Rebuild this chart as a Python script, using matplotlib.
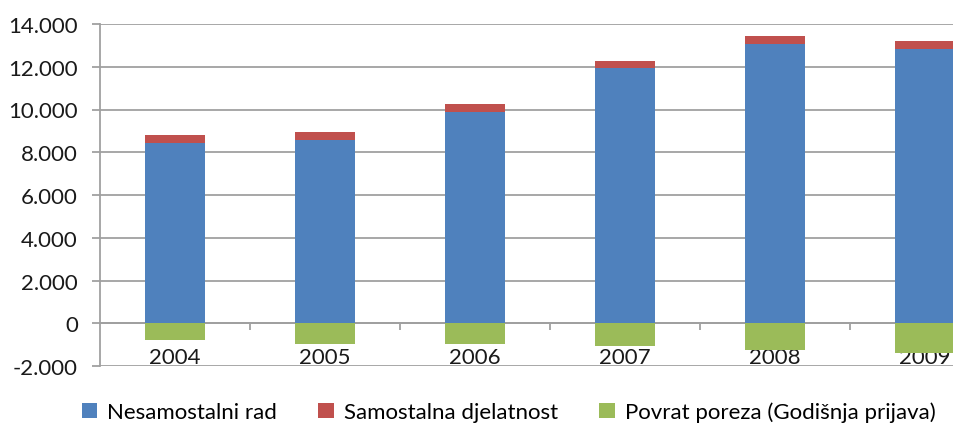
import numpy as np
import matplotlib.pyplot as plt
from matplotlib.ticker import FuncFormatter, FixedLocator

plt.rcParams['font.family'] = ['Lato', 'DejaVu Sans']

years = ['2004', '2005', '2006', '2007', '2008', '2009']
nesamostalni = [8425, 8565, 9905, 11920, 13045, 12840]
samostalna = [405, 405, 360, 340, 390, 345]
povrat = [-795, -950, -950, -1045, -1265, -1405]
labels = ['Nesamostalni rad', 'Samostalna djelatnost', 'Povrat poreza (Godišnja prijava)']
colors = ['#4F81BD', '#C0504D', '#9BBB59']

fig = plt.figure(figsize=(9.54, 4.27), dpi=100)
# plot area runs past the right edge, like in the cropped original
ax = fig.add_axes([100 / 954, 60 / 427, 900 / 954, 342 / 427])

x = np.arange(len(years))
w = 0.4
ax.bar(x, nesamostalni, w, color=colors[0], label=labels[0], zorder=3)
ax.bar(x, samostalna, w, bottom=nesamostalni, color=colors[1], label=labels[1], zorder=3)
ax.bar(x, povrat, w, color=colors[2], label=labels[2], zorder=3)

ax.set_xlim(-0.5, len(years) - 0.5)
ax.set_ylim(-2000, 14000)
ax.set_yticks(np.arange(-2000, 14001, 2000))
ax.yaxis.set_major_formatter(FuncFormatter(lambda v, p: f'{int(v):,}'.replace(',', '.')))
ax.yaxis.grid(True, color='#A0A0A0', linewidth=1.3, zorder=0)

ax.spines['bottom'].set_position(('data', 0))
for s in ['top', 'right']:
    ax.spines[s].set_visible(False)
for s in ['left', 'bottom']:
    ax.spines[s].set_color('#A0A0A0')
    ax.spines[s].set_linewidth(1.3)

ax.set_xticks(x)
ax.set_xticklabels(years)
ax.xaxis.set_minor_locator(FixedLocator(x[:-1] + 0.5))
ax.tick_params(axis='x', which='major', length=0, pad=17, labelsize=16, colors='#1a1a1a')
ax.tick_params(axis='x', which='minor', length=5, width=1.3, color='#A0A0A0', direction='out')
ax.tick_params(axis='y', length=6, width=1.3, color='#A0A0A0', labelsize=16, labelcolor='#1a1a1a', pad=10)

fig.legend(loc='lower left', bbox_to_anchor=(73 / 954, -0.012), ncol=3, frameon=False,
           fontsize=16, handlelength=0.7, handleheight=0.7, handletextpad=0.45,
           columnspacing=1.85, borderaxespad=0)

fig.savefig('out.png', dpi=100)
